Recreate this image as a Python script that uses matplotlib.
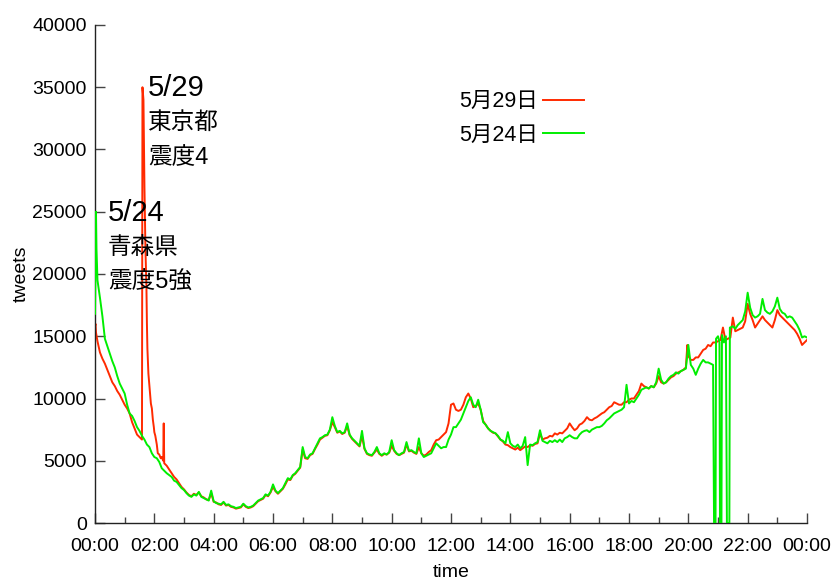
import numpy as np
import matplotlib
matplotlib.use("Agg")
import matplotlib.pyplot as plt
from matplotlib.ticker import MultipleLocator

plt.rcParams['font.family'] = ['Liberation Sans', 'Noto Sans CJK JP', 'DejaVu Sans']

# ---- data (tweets on a 5-minute grid) ----
grid_step_min = 5

red_label = "5月29日"
green_label = "5月24日"

red_grid = [
    15800, 14600, 13700, 13200, 12800, 12300, 11800, 11300, 11000, 10600, 10300, 9900,
    9500, 9200, 8800, 8100, 7600, 7100, 6900, 6700, 27000, 16000, 11000, 9200,
    7300, 6300, 5500, 5300, 4800, 4600, 4300, 4000, 3700, 3500, 3200, 2900,
    2700, 2450, 2250, 2150, 2350, 2250, 2450, 2150, 2050, 1900, 1850, 2400,
    1700, 1650, 1500, 1450, 1650, 1400, 1450, 1300, 1250, 1150, 1200, 1250,
    1500, 1300, 1200, 1250, 1350, 1550, 1750, 1850, 1950, 2250, 2150, 2450,
    2900, 2550, 2350, 2550, 2750, 3100, 3500, 3450, 3800, 3950, 4200, 4450,
    5900, 5200, 5150, 5450, 5550, 5950, 6300, 6700, 6850, 7000, 7050, 7450,
    8100, 7700, 7250, 7350, 7150, 7250, 7800, 7050, 6750, 6550, 6350, 6150,
    7000, 5950, 5550, 5450, 5400, 5650, 5900, 5550, 5400, 5550, 5500, 5650,
    6200, 5800, 5550, 5450, 5550, 5650, 6300, 5750, 5800, 5650, 5550, 6100,
    5600, 5400, 5500, 5700, 5850, 6300, 6650, 6700, 6900, 7100, 7300, 8000,
    9500, 9600, 9100, 9000, 9100, 9500, 10100, 10400, 10000, 9300, 9400, 9600,
    9100, 8200, 7900, 7600, 7400, 7250, 7200, 6950, 6700, 6550, 6300, 6250,
    6100, 6000, 5900, 6050, 5850, 6000, 6150, 6100, 6250, 6200, 6350, 6400,
    7200, 6700, 6800, 6850, 7000, 6950, 7200, 7100, 7250, 7200, 7400, 7600,
    8000, 7700, 7450, 7600, 7900, 8000, 8200, 8500, 8300, 8250, 8400, 8500,
    8650, 8800, 8900, 9100, 9300, 9400, 9700, 9600, 9500, 9500, 9700, 9700,
    9900, 10000, 10000, 10300, 10600, 11200, 11000, 10900, 10800, 11000, 10900, 11200,
    11800, 11300, 11200, 11300, 11500, 11700, 11800, 12000, 12100, 12200, 12300, 12500,
    13400, 13100, 13100, 13300, 13300, 13600, 13900, 14000, 14300, 14200, 14500, 14500,
    14600, 14700, 15700, 14700, 14800, 14900, 16500, 15400, 15500, 15600, 15700, 16200,
    17600, 16800, 16300, 15700, 16000, 16300, 16600, 16300, 16100, 15900, 15700, 16300,
    17100, 16700, 16500, 16300, 16100, 15900, 15700, 15500, 15200, 14800, 14300, 14500,
    14700,
]

# extra single-minute readings (minute of day, tweets)
red_extra_min = [1, 2, 96, 98, 102, 104, 106, 108, 113, 117, 119, 122, 127, 133, 138, 139, 1198]
red_extra_val = [16000, 15300, 35000, 34000, 22000, 19000, 14000, 12000, 9600, 8300, 7700,
                 7000, 5600, 5200, 5000, 8000, 14300]

green_grid = [
    16800, 19500, 18100, 16600, 14800, 14200, 13600, 13000, 12500, 11800, 11200, 10800,
    10400, 9500, 8800, 8600, 8200, 7700, 7400, 7000, 6700, 6300, 6100, 5600,
    5300, 5200, 4900, 4400, 4200, 4000, 3850, 3700, 3400, 3300, 3050, 2800,
    2650, 2400, 2200, 2100, 2300, 2200, 2500, 2100, 2000, 1900, 1800, 2600,
    1750, 1600, 1550, 1500, 1700, 1450, 1500, 1350, 1300, 1200, 1250, 1300,
    1550, 1350, 1250, 1300, 1400, 1600, 1800, 1900, 2000, 2300, 2200, 2500,
    3100, 2600, 2400, 2600, 2800, 3200, 3600, 3500, 3850, 4000, 4250, 4500,
    6100, 5300, 5200, 5500, 5600, 6000, 6400, 6800, 6900, 7050, 7100, 7500,
    8500, 7800, 7300, 7400, 7200, 7300, 8000, 7100, 6800, 6600, 6400, 6200,
    7400, 6000, 5600, 5500, 5450, 5700, 6100, 5600, 5450, 5600, 5500, 5700,
    6650, 5850, 5600, 5450, 5600, 5700, 6500, 5800, 5850, 5700, 5600, 6800,
    5600, 5300, 5400, 5500, 5600, 6000, 6400, 6200, 6000, 6100, 6100, 6700,
    7100, 7700, 7700, 8000, 8300, 8800, 9300, 9800, 10100, 9500, 9300, 9900,
    9100, 8100, 7900, 7600, 7400, 7300, 7200, 7000, 6700, 6600, 6400, 7300,
    6400, 6200, 6100, 6300, 6000, 6200, 6900, 4650, 6300, 6250, 6400, 6500,
    7450, 6600, 6500, 6400, 6600, 6500, 6650, 6500, 6700, 6500, 6800, 6900,
    7050, 6900, 6800, 6800, 7100, 7300, 7400, 7450, 7300, 7500, 7600, 7700,
    7700, 7800, 8000, 8250, 8400, 8600, 8800, 8900, 9000, 9100, 9300, 11100,
    9600, 9800, 9700, 10000, 10300, 10700, 10800, 10900, 10800, 11000, 10900, 11300,
    12400, 11500, 11200, 11300, 11600, 11800, 11900, 12100, 12000, 12200, 12300, 12400,
    14300, 12700, 12400, 11900, 12400, 12800, 13100, 12900, 12900, 12800, 12700, None,
    None, None, None, None, None, 15700, 15800, 15600, 15900, 16100, 16300, 17000,
    18500, 17300, 16700, 16500, 16600, 16800, 18000, 17100, 16900, 16800, 17000, 17400,
    18100, 17200, 16900, 16800, 16500, 16600, 16500, 16200, 15900, 15500, 14900, 15000,
    14900,
]

green_extra_min = [1, 2, 3, 1252, 1255, 1256, 1260, 1263, 1264, 1267, 1268, 1272, 1276,
                   1278, 1283, 1284]
green_extra_val = [21000, 25000, 22000, 0, 0, 14800, 15000, 14500, 0, 0, 15100, 14500,
                   15000, 0, 0, 15700]

y_ticks = [0, 5000, 10000, 15000, 20000, 25000, 30000, 35000, 40000]
x_tick_hours = list(range(0, 25, 2))
x_tick_labels = [f"{h % 24:02d}:00" for h in x_tick_hours]

ann_529 = ["5/29", "東京都", "震度4"]
ann_524 = ["5/24", "青森県", "震度5強"]


def merge(grid, extra_min, extra_val):
    pts = [(i * grid_step_min, v) for i, v in enumerate(grid) if v is not None]
    pts += list(zip(extra_min, extra_val))
    pts.sort(key=lambda p: p[0])
    t = np.array([p[0] for p in pts]) / 60.0
    v = np.array([p[1] for p in pts], dtype=float)
    return t, v


rt, rv = merge(red_grid, red_extra_min, red_extra_val)
gt, gv = merge(green_grid, green_extra_min, green_extra_val)

W, H = 834, 581
fig = plt.figure(figsize=(W / 100, H / 100), dpi=100)
ax = fig.add_axes([95 / W, 1 - 523 / H, (807 - 95) / W, (523 - 25) / H])

red_c = '#ff2a00'
green_c = '#00ee00'
ax.plot(rt, rv, color=red_c, lw=1.4, label=red_label, zorder=2)
ax.plot(gt, gv, color=green_c, lw=1.4, label=green_label, zorder=3)

ax.set_xlim(0, 24)
ax.set_ylim(0, 40000)
ax.set_xticks(x_tick_hours)
ax.set_xticklabels(x_tick_labels)
ax.xaxis.set_minor_locator(MultipleLocator(1))
ax.set_yticks(y_ticks)
ax.set_yticklabels([str(v) for v in y_ticks])

for s in ['top', 'right']:
    ax.spines[s].set_visible(False)
for s in ['left', 'bottom']:
    ax.spines[s].set_linewidth(1.0)
    ax.spines[s].set_color('#222222')

ax.tick_params(axis='both', which='major', direction='in', length=7, width=1,
               labelsize=14, color='#444444')
ax.tick_params(axis='x', which='minor', direction='in', length=4, width=1, color='#444444')
ax.tick_params(axis='x', pad=11)
ax.tick_params(axis='y', pad=6)

ax.set_xlabel("time", fontsize=14, labelpad=6)
ax.set_ylabel("tweets", fontsize=14, labelpad=2)

# annotations
def place(lines, x_px, y_px_list, sizes):
    for txt, yp, sz in zip(lines, y_px_list, sizes):
        fig.text(x_px / W, 1 - yp / H, txt, fontsize=sz, ha='left', va='center')

place(ann_529, 148, [88, 123, 158], [21, 17, 17])
place(ann_524, 108, [213, 248, 283], [21, 17, 17])

leg = fig.legend(loc='center', bbox_to_anchor=(521.5 / W, 1 - 118.5 / H), frameon=False,
                 markerfirst=False, fontsize=15.5, handlelength=1.9, handletextpad=0.25,
                 labelspacing=0.6)

fig.savefig("out.png", dpi=100)
